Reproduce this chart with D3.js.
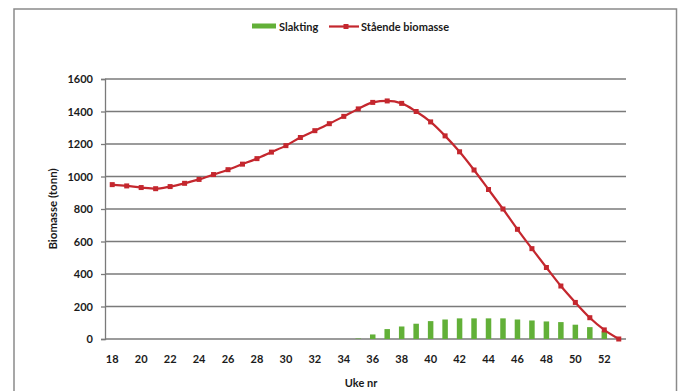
<!DOCTYPE html>
<html>
<head>
<meta charset="utf-8">
<script src="https://cdn.jsdelivr.net/npm/d3@7"></script>
<style>
  html, body { margin: 0; padding: 0; background: #fff; }
  svg { display: block; }
  text { font-family: Lato, "Open Sans", sans-serif; fill: #1a1a1a; }
</style>
</head>
<body>
<svg id="chart" width="682" height="391"></svg>
<script>
// Week numbers on the x axis
const weeks = d3.range(18, 54);

// Standing biomass per week (tonnes)
const biomass = [950, 942, 932, 925, 938, 958, 982, 1012, 1042, 1076, 1110, 1150, 1190,
  1240, 1282, 1325, 1370, 1416, 1456, 1465, 1450, 1400, 1336, 1250, 1152, 1040, 920,
  800, 675, 556, 440, 326, 225, 131, 56, 0];

// Harvest (slaughter) per week (tonnes)
const harvest = [0, 0, 0, 0, 0, 0, 0, 0, 0, 0, 0, 0, 0, 0, 0, 0, 0, 3, 28, 61, 77, 94,
  110, 120, 127, 127, 127, 127, 120, 114, 108, 104, 88, 73, 48, 0];

const yTicks = [0, 200, 400, 600, 800, 1000, 1200, 1400, 1600];
const xTickLabels = weeks.filter(w => w % 2 === 0 && w <= 52);

const seriesNames = ["Slakting", "Stående biomasse"];
const barColor = "#62b038";
const lineColor = "#c4272e";
const gridColor = "#7a7a7a";

const svg = d3.select("#chart");
const plot = { left: 105, right: 626, top: 79, bottom: 339 };

// Outer frame of the chart area
svg.append("path")
  .attr("d", `M14,400 L14,9 L676.5,9 L676.5,400`)
  .attr("fill", "none")
  .attr("stroke", "#8a8a8a")
  .attr("stroke-width", 1.5);

const x = d3.scaleBand()
  .domain(weeks)
  .range([plot.left, plot.right])
  .paddingInner(0)
  .paddingOuter(0);

const y = d3.scaleLinear()
  .domain([0, 1600])
  .range([plot.bottom, plot.top]);

// Horizontal gridlines
svg.append("g")
  .selectAll("line")
  .data(yTicks)
  .join("line")
  .attr("x1", plot.left)
  .attr("x2", plot.right)
  .attr("y1", d => y(d))
  .attr("y2", d => y(d))
  .attr("stroke", gridColor)
  .attr("stroke-width", 1.3);

// Y axis
const yAxis = d3.axisLeft(y)
  .tickValues(yTicks)
  .tickSize(4)
  .tickPadding(8)
  .tickFormat(d3.format("d"));

const yg = svg.append("g")
  .attr("transform", `translate(${plot.left},0)`)
  .call(yAxis);
yg.select(".domain").attr("stroke", gridColor).attr("stroke-width", 1.3);
yg.selectAll(".tick line").attr("stroke", gridColor).attr("stroke-width", 1.3);
yg.selectAll(".tick text")
  .attr("font-size", 11)
  .attr("font-weight", 700)
  .attr("fill", "#1a1a1a")
  .style("font-family", "Lato, sans-serif");

// X axis labels (every second week)
const xAxis = d3.axisBottom(x)
  .tickValues(xTickLabels)
  .tickSize(0)
  .tickPadding(16);

const xg = svg.append("g")
  .attr("transform", `translate(0,${plot.bottom})`)
  .call(xAxis);
xg.select(".domain").remove();
xg.selectAll(".tick text")
  .attr("font-size", 11)
  .attr("font-weight", 700)
  .attr("fill", "#1a1a1a")
  .style("font-family", "Lato, sans-serif");

// Harvest bars
const barW = x.bandwidth() * 0.38;
svg.append("g")
  .selectAll("rect")
  .data(weeks.map((w, i) => ({ w, v: harvest[i] })).filter(d => d.v > 0))
  .join("rect")
  .attr("x", d => x(d.w) + x.bandwidth() / 2 - barW / 2)
  .attr("width", barW)
  .attr("y", d => y(d.v))
  .attr("height", d => y(0) - y(d.v))
  .attr("fill", barColor);

// Standing biomass line with square markers
const pts = weeks.map((w, i) => ({ w, v: biomass[i] }));
const line = d3.line()
  .x(d => x(d.w) + x.bandwidth() / 2)
  .y(d => y(d.v))
  .curve(d3.curveMonotoneX);

svg.append("path")
  .datum(pts)
  .attr("d", line)
  .attr("fill", "none")
  .attr("stroke", lineColor)
  .attr("stroke-width", 2.2);

const mk = 5;
svg.append("g")
  .selectAll("rect")
  .data(pts)
  .join("rect")
  .attr("x", d => x(d.w) + x.bandwidth() / 2 - mk / 2)
  .attr("y", d => y(d.v) - mk / 2)
  .attr("width", mk)
  .attr("height", mk)
  .attr("fill", lineColor);

// Axis titles
svg.append("text")
  .attr("transform", `translate(57,${(plot.top + plot.bottom) / 2}) rotate(-90)`)
  .attr("text-anchor", "middle")
  .attr("font-size", 11.5)
  .attr("font-weight", 700)
  .text("Biomasse (tonn)");

svg.append("text")
  .attr("x", 361)
  .attr("y", 387)
  .attr("text-anchor", "middle")
  .attr("font-size", 11)
  .attr("font-weight", 700)
  .text("Uke nr");

// Legend
const lg = svg.append("g");
lg.append("rect")
  .attr("x", 252).attr("y", 23.5)
  .attr("width", 24).attr("height", 5)
  .attr("fill", barColor);
lg.append("text")
  .attr("x", 279).attr("y", 30.5)
  .attr("font-size", 11)
  .attr("font-weight", 700)
  .text(seriesNames[0]);

lg.append("line")
  .attr("x1", 329).attr("x2", 359)
  .attr("y1", 26.5).attr("y2", 26.5)
  .attr("stroke", lineColor)
  .attr("stroke-width", 2.2);
lg.append("rect")
  .attr("x", 346 - mk / 2).attr("y", 26.5 - mk / 2)
  .attr("width", mk).attr("height", mk)
  .attr("fill", lineColor);
lg.append("text")
  .attr("x", 361).attr("y", 30.5)
  .attr("font-size", 11)
  .attr("font-weight", 700)
  .text(seriesNames[1]);
</script>
</body>
</html>
